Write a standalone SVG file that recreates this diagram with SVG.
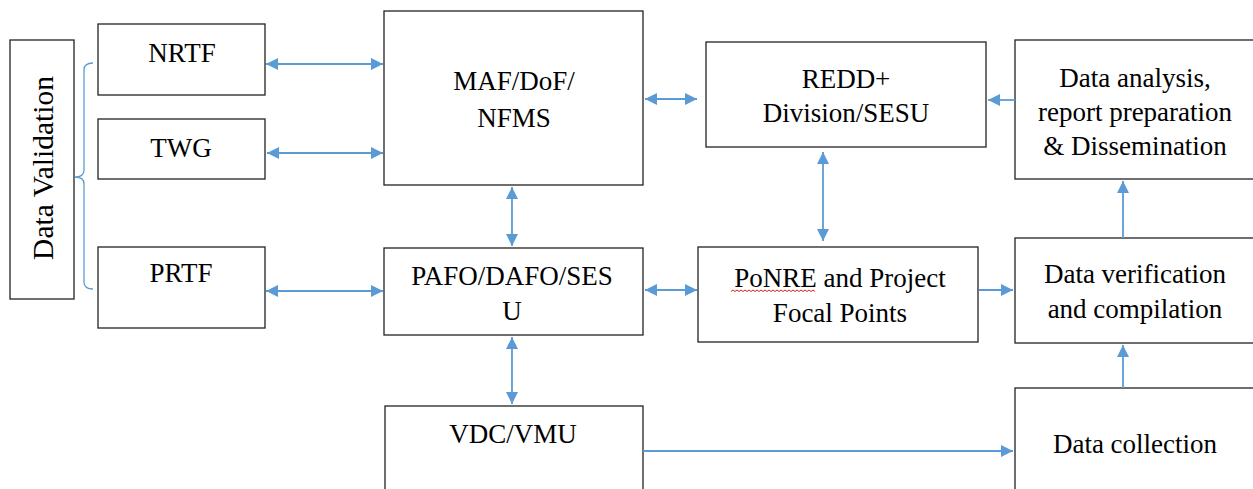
<svg xmlns="http://www.w3.org/2000/svg" width="1253" height="489" viewBox="0 0 1253 489">
<style>
.box{fill:#fff;stroke:#222;stroke-width:1.3}
.t{font-family:'Liberation Serif','Times New Roman',serif;font-size:27px;fill:#000;text-anchor:middle}
.c{fill:none;stroke:#5B9BD5;stroke-width:1.8}
.br{fill:none;stroke:#5B9BD5;stroke-width:1.3}
</style>
<defs>
<marker id="ah" viewBox="0 0 12 12" refX="12" refY="6" markerWidth="12" markerHeight="12" markerUnits="userSpaceOnUse" orient="auto-start-reverse">
<path d="M0,0 L12,6 L0,12 z" fill="#5B9BD5"/>
</marker>
</defs>
<rect width="1253" height="489" fill="#fff"/>
<g id="dataValidation">
<rect class="box" x="10" y="40" width="64" height="259"/>
<text class="t" style="font-size:29.5px" transform="translate(53,168) rotate(-90)">Data Validation</text>
</g>
<g id="bracket">
<path class="br" d="M93,63 Q84,63 84,70 V170 Q84,177 75,177 Q84,177 84,184 V282 Q84,289 93,289"/>
</g>
<g id="nrtf">
<rect class="box" x="98" y="24" width="167" height="71"/>
<text class="t" x="182" y="62">NRTF</text>
</g>
<g id="twg">
<rect class="box" x="98" y="119" width="167" height="60"/>
<text class="t" x="181" y="157">TWG</text>
</g>
<g id="prtf">
<rect class="box" x="98" y="247" width="167" height="81"/>
<text class="t" x="181" y="282">PRTF</text>
</g>
<g id="maf">
<rect class="box" x="384" y="11" width="259" height="174"/>
<text class="t" x="514" y="90">MAF/DoF/</text>
<text class="t" x="514" y="127">NFMS</text>
</g>
<g id="pafo">
<rect class="box" x="384" y="248" width="259" height="87"/>
<text class="t" x="512" y="285">PAFO/DAFO/SES</text>
<text class="t" x="512" y="320">U</text>
</g>
<g id="vdc">
<rect class="box" x="385" y="406" width="258" height="100"/>
<text class="t" x="513" y="443">VDC/VMU</text>
</g>
<g id="redd">
<rect class="box" x="706" y="42" width="280" height="105"/>
<text class="t" x="846" y="88">REDD+</text>
<text class="t" x="846" y="122">Division/SESU</text>
</g>
<g id="ponre">
<rect class="box" x="698" y="247" width="280" height="95"/>
<text class="t" x="840" y="287">PoNRE and Project</text>
<text class="t" x="840" y="322">Focal Points</text>
<path d="M731,291.5 l2,-1.5 l2,1.5 l2,-1.5 l2,1.5 l2,-1.5 l2,1.5 l2,-1.5 l2,1.5 l2,-1.5 l2,1.5 l2,-1.5 l2,1.5 l2,-1.5 l2,1.5 l2,-1.5 l2,1.5 l2,-1.5 l2,1.5 l2,-1.5 l2,1.5 l2,-1.5 l2,1.5 l2,-1.5 l2,1.5 l2,-1.5 l2,1.5 l2,-1.5 l2,1.5 l2,-1.5 l2,1.5 l2,-1.5 l2,1.5 l2,-1.5 l2,1.5 l2,-1.5 l2,1.5 l2,-1.5 l2,1.5 l2,-1.5 l2,1.5 l2,-1.5 l2,1.5" fill="none" stroke="#e02020" stroke-width="1"/>
</g>
<g id="dataAnalysis">
<rect class="box" x="1015" y="40" width="250" height="139"/>
<text class="t" x="1135" y="87">Data analysis,</text>
<text class="t" x="1135" y="121">report preparation</text>
<text class="t" x="1135" y="155">&amp; Dissemination</text>
</g>
<g id="dataVerification">
<rect class="box" x="1015" y="238" width="250" height="105"/>
<text class="t" x="1135" y="283">Data verification</text>
<text class="t" x="1135" y="318">and compilation</text>
</g>
<g id="dataCollection">
<rect class="box" x="1015" y="388" width="250" height="120"/>
<text class="t" x="1135" y="453">Data collection</text>
</g>
<g id="connectors">
<path class="c" d="M266,64 H383" marker-start="url(#ah)" marker-end="url(#ah)"/>
<path class="c" d="M267,153 H383" marker-start="url(#ah)" marker-end="url(#ah)"/>
<path class="c" d="M266,291 H383" marker-start="url(#ah)" marker-end="url(#ah)"/>
<path class="c" d="M512,187 V246" marker-start="url(#ah)" marker-end="url(#ah)"/>
<path class="c" d="M645,99 H697" marker-start="url(#ah)" marker-end="url(#ah)"/>
<path class="c" d="M823,152 V241" marker-start="url(#ah)" marker-end="url(#ah)"/>
<path class="c" d="M1015,100 H988" marker-end="url(#ah)"/>
<path class="c" d="M645,290 H697" marker-start="url(#ah)" marker-end="url(#ah)"/>
<path class="c" d="M979,290 H1013" marker-end="url(#ah)"/>
<path class="c" d="M512,337 V404" marker-start="url(#ah)" marker-end="url(#ah)"/>
<path class="c" d="M643,451 H1013" marker-end="url(#ah)"/>
<path class="c" d="M1123,388 V345" marker-end="url(#ah)"/>
<path class="c" d="M1123,238 V181" marker-end="url(#ah)"/>
</g>
</svg>
